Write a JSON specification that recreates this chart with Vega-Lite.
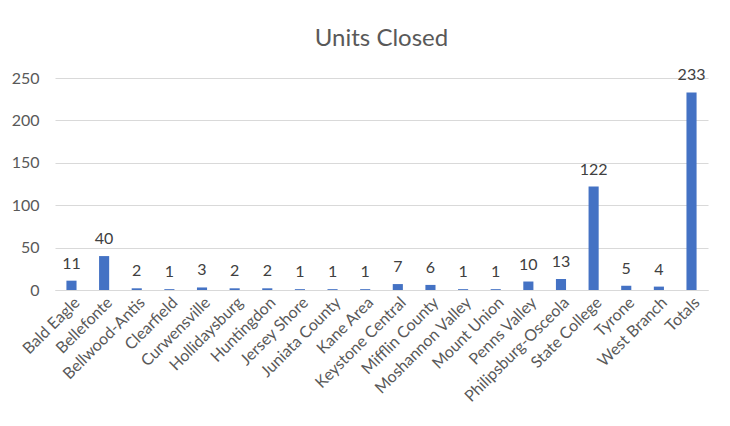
{
  "$schema": "https://vega.github.io/schema/vega-lite/v6.json",
  "width": 653,
  "height": 212,
  "autosize": {"type": "none"},
  "padding": {"left": 55, "top": 78, "right": 22, "bottom": 136},
  "background": "white",
  "title": {"text": "Units Closed", "fontSize": 24, "font": "Lato", "fontWeight": "normal", "color": "#595959", "anchor": "middle", "frame": "group", "offset": 16},
  "config": {"view": {"stroke": null}, "font": "Lato"},
  "data": {"values": [
    {"unit": "Bald Eagle", "closed": 11},
    {"unit": "Bellefonte", "closed": 40},
    {"unit": "Bellwood-Antis", "closed": 2},
    {"unit": "Clearfield", "closed": 1},
    {"unit": "Curwensville", "closed": 3},
    {"unit": "Hollidaysburg", "closed": 2},
    {"unit": "Huntingdon", "closed": 2},
    {"unit": "Jersey Shore", "closed": 1},
    {"unit": "Juniata County", "closed": 1},
    {"unit": "Kane Area", "closed": 1},
    {"unit": "Keystone Central", "closed": 7},
    {"unit": "Mifflin County", "closed": 6},
    {"unit": "Moshannon Valley", "closed": 1},
    {"unit": "Mount Union", "closed": 1},
    {"unit": "Penns Valley", "closed": 10},
    {"unit": "Philipsburg-Osceola", "closed": 13},
    {"unit": "State College", "closed": 122},
    {"unit": "Tyrone", "closed": 5},
    {"unit": "West Branch", "closed": 4},
    {"unit": "Totals", "closed": 233}
  ]},
  "encoding": {
    "x": {"field": "unit", "type": "nominal", "sort": null, "title": null,
      "scale": {"paddingInner": 0.69, "paddingOuter": 0.35},
      "axis": {"labelAngle": -45, "labelAlign": "right", "labelBaseline": "top", "labelFontSize": 16, "labelColor": "#595959", "labelPadding": 4, "labelLimit": 300, "ticks": false, "domainColor": "#d9d9d9", "domainWidth": 1, "grid": false}},
    "y": {"field": "closed", "type": "quantitative", "title": null,
      "scale": {"domain": [0, 250], "nice": false},
      "axis": {"values": [0, 50, 100, 150, 200, 250], "labelFontSize": 16, "labelColor": "#595959", "labelPadding": 16, "ticks": false, "domain": false, "gridColor": "#d9d9d9", "gridWidth": 1}}
  },
  "layer": [
    {"mark": {"type": "bar", "color": "#4472C4"}},
    {"mark": {"type": "text", "dy": -9, "fontSize": 16, "color": "#404040", "baseline": "bottom"}, "encoding": {"text": {"field": "closed", "type": "quantitative"}}}
  ]
}
